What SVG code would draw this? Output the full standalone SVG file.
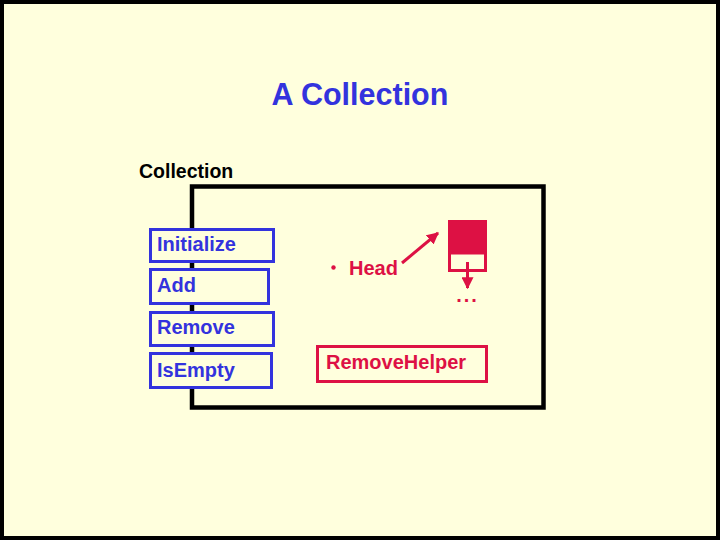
<svg xmlns="http://www.w3.org/2000/svg" width="720" height="540" viewBox="0 0 720 540">
<style>
text{font-family:"Liberation Sans",Arial,sans-serif;font-weight:bold}
.m{fill:#3333DD;font-size:20px}
.mb{fill:#FFFFDD;stroke:#3333DD;stroke-width:3}
.r{fill:#DD1144;font-size:20px}
.rb{fill:none;stroke:#DD1144;stroke-width:3}
</style>
<defs>
<marker id="ah" viewBox="0 0 10 10" refX="9" refY="5" markerWidth="4" markerHeight="4" orient="auto" markerUnits="strokeWidth">
<path d="M0,0 L10,5 L0,10 z" fill="#DD1144"/>
</marker>
</defs>
<rect x="2" y="2" width="716" height="536" fill="#FFFFDD" stroke="#000" stroke-width="4"/>
<text x="360" y="105" text-anchor="middle" fill="#3333DD" font-size="30.5">A Collection</text>
<g id="collection">
<text x="139" y="178" font-size="19.5" fill="#000">Collection</text>
<rect x="192" y="186.5" width="351.5" height="221" fill="none" stroke="#000" stroke-width="4.5"/>
</g>
<g id="initialize"><rect class="mb" x="150.5" y="229.5" width="123" height="32"/><text class="m" x="157" y="251">Initialize</text></g>
<g id="add"><rect class="mb" x="150.5" y="269.5" width="118" height="34"/><text class="m" x="157" y="292">Add</text></g>
<g id="remove"><rect class="mb" x="150.5" y="312.5" width="123" height="33"/><text class="m" x="157" y="334">Remove</text></g>
<g id="isempty"><rect class="mb" x="150.5" y="353.5" width="121" height="34"/><text class="m" x="157" y="377">IsEmpty</text></g>
<g id="head">
<circle cx="333.5" cy="267.5" r="2.2" fill="#DD1144"/>
<text class="r" x="349" y="275">Head</text>
</g>
<g id="node">
<rect x="448" y="220" width="39" height="34" fill="#DD1144"/>
<rect x="449.5" y="253" width="36" height="17.5" fill="#FFFFDD" stroke="#DD1144" stroke-width="3"/>
<text class="r" x="467.5" y="302" text-anchor="middle" font-size="18" letter-spacing="2">...</text>
</g>
<g id="removehelper"><rect class="rb" x="317.5" y="346.5" width="169" height="35"/><text class="r" x="326" y="369">RemoveHelper</text></g>
<g id="connectors" stroke="#DD1144" stroke-width="3" fill="none">
<line x1="402" y1="263" x2="438" y2="233" marker-end="url(#ah)"/>
<line x1="467.5" y1="262" x2="467.5" y2="288" marker-end="url(#ah)"/>
</g>
</svg>
